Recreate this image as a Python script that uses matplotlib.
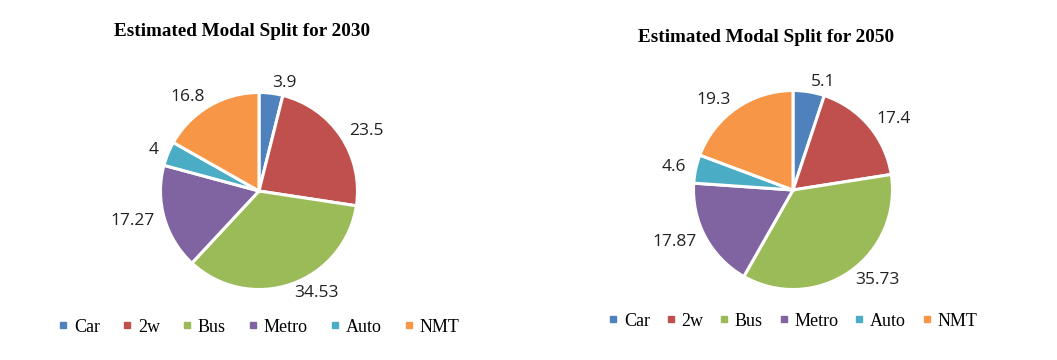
import matplotlib
matplotlib.use("Agg")
from matplotlib import pyplot as plt
from matplotlib.lines import Line2D

modes = ["Car", "2w", "Bus", "Metro", "Auto", "NMT"]
split_2030 = [3.9, 23.5, 34.53, 17.27, 4, 16.8]
split_2050 = [5.1, 17.4, 35.73, 17.87, 4.6, 19.3]
labels_2030 = ["3.9", "23.5", "34.53", "17.27", "4", "16.8"]
labels_2050 = ["5.1", "17.4", "35.73", "17.87", "4.6", "19.3"]
colors = ["#4F81BD", "#C0504D", "#9BBB59", "#8064A2", "#4BACC6", "#F79646"]

W, H = 1057, 360
fig = plt.figure(figsize=(W / 100, H / 100), dpi=100)


def draw_pie(cx, cy, r, values, labels, title, title_x, title_y, legend_x, legend_y, colspace):
    # pie() sets limits to +-1.25, so an axes of 2.5*r px gives radius r px
    s = 2.5 * r
    ax = fig.add_axes([(cx - s / 2) / W, (H - cy - s / 2) / H, s / W, s / H])
    ax.pie(values, labels=labels, colors=colors, startangle=90,
           counterclock=False, labeldistance=1.1,
           wedgeprops=dict(edgecolor="white", linewidth=2.2),
           textprops=dict(fontsize=12.5, family="Open Sans", color="#222222"))
    ax.set_aspect("equal")
    fig.text(title_x / W, 1 - title_y / H, title, ha="center", va="baseline",
             fontsize=13.8, fontweight="bold", family="Liberation Serif")
    handles = [Line2D([], [], marker="s", linestyle="", color=c, markersize=4.5) for c in colors]
    fig.legend(handles, modes, loc="center", bbox_to_anchor=(legend_x / W, 1 - legend_y / H),
               ncol=6, frameon=False, handlelength=0.6, handletextpad=0.3,
               columnspacing=colspace, borderpad=0, borderaxespad=0,
               prop=dict(family="Liberation Serif", size=13))


draw_pie(259, 191, 98.5, split_2030, labels_2030, "Estimated Modal Split for 2030",
         242, 36.5, 258.5, 327, 1.2)
draw_pie(793, 190, 99.5, split_2050, labels_2050, "Estimated Modal Split for 2050",
         766, 42, 792.5, 321, 0.85)

fig.savefig("out.png", dpi=100)
